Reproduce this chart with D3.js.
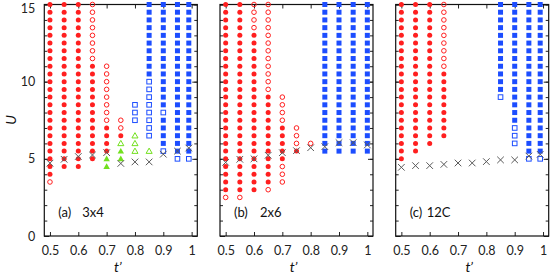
<!DOCTYPE html>
<html><head><meta charset="utf-8">
<script src="https://cdn.jsdelivr.net/npm/d3@7"></script>
<style>body{margin:0;background:#fff}svg{display:block}text{font-family:Lato,"Liberation Sans",sans-serif}</style>
</head><body><svg id="c" width="550" height="278"></svg>
<script>
// ---- data: ranges [t', U_low, U_high] on a 0.5-step U grid ----
const tickT = [0.5, 0.6, 0.7, 0.8, 0.9, 1.0];
const tickU = [0, 5, 10, 15];
const panelNames = ["(a)", "(b)", "(c)"];
const panelSizes = ["3x4", "2x6", "12C"];

const redFilledA = [[0.5,4,15],[0.55,4.5,15],[0.6,4.5,15],[0.65,5,11],[0.7,5.5,7],[0.75,6.5,6.5]];
const redOpenA   = [[0.5,3.5,3.5],[0.65,11.5,15],[0.7,7.5,11],[0.75,7,7.5]];
const greenFilledA = [[0.7,4.5,5],[0.75,5,5.5]];
const greenOpenA = [[0.75,6,6],[0.8,5.5,6.5],[0.85,5.5,5.5]];
const blueFilledA = [[0.85,10.5,15],[0.9,8.5,15],[0.9,6,7.5],[0.95,5.5,15],[0.99,5.5,15]];
const blueOpenA = [[0.8,7.5,8.5],[0.85,6.5,10],[0.9,8,8],[0.9,5.5,5.5],[0.95,5,5],[0.99,5,5]];
const crossA = [[0.5,4.72],[0.55,4.97],[0.6,5.15],[0.65,5.25],[0.7,5.4],[0.75,4.7],[0.8,4.8],[0.85,4.8],[0.9,5.3],[0.95,5.5],[0.99,5.7]];

const redFilledB = [[0.5,3,15],[0.55,3,15],[0.6,3,13],[0.65,3.5,9],[0.7,5,7],[0.75,5.5,5.5]];
const redOpenB = [[0.5,2.5,2.5],[0.55,2.5,2.5],[0.6,13.5,15],[0.65,9.5,15],[0.65,3,3],[0.7,7.5,9],[0.7,3.5,4.5],[0.75,6,7],[0.8,6,6]];
const greenFilledB = [];
const greenOpenB = [];
const blueFilledB = [[0.85,5.5,15],[0.9,5.5,15],[0.95,5.5,15],[1.0,5.5,15]];
const blueOpenB = [];
const crossB = [[0.5,4.77],[0.55,4.97],[0.6,5.0],[0.65,5.23],[0.7,5.4],[0.75,5.53],[0.8,5.72],[0.85,5.79],[0.9,6.05],[0.95,6.05],[1.0,5.9]];

const redFilledC = [[0.5,5,15],[0.55,5.5,15],[0.6,6,15],[0.65,6.5,10.5]];
const redOpenC = [[0.65,11,15]];
const greenFilledC = [];
const greenOpenC = [];
const blueFilledC = [[0.85,9.5,15],[0.9,7.5,15],[0.95,5.5,15],[0.99,5.5,15]];
const blueOpenC = [[0.85,9,9],[0.9,6,7],[0.95,5,5],[0.99,5,5]];
const crossC = [[0.5,4.45],[0.55,4.56],[0.6,4.56],[0.65,4.64],[0.7,4.73],[0.75,4.73],[0.8,4.82],[0.85,4.93],[0.9,4.93],[0.95,5.18],[0.99,5.29]];

const panels = [
  {rf:redFilledA, ro:redOpenA, gf:greenFilledA, go:greenOpenA, bf:blueFilledA, bo:blueOpenA, x:crossA},
  {rf:redFilledB, ro:redOpenB, gf:greenFilledB, go:greenOpenB, bf:blueFilledB, bo:blueOpenB, x:crossB},
  {rf:redFilledC, ro:redOpenC, gf:greenFilledC, go:greenOpenC, bf:blueFilledC, bo:blueOpenC, x:crossC}
];

// ---- layout ----
const svg = d3.select("#c");
const lefts = [44.3, 220, 395.7];
const pw = 153, plotTop = 4.5, plotBottom = 236;
const RED = "#ff1f1f", BLUE = "#1c4dff", GREEN = "#72e01e", XCOL = "#5a5a5a";

function expand(ranges){
  const out = [];
  ranges.forEach(([t,lo,hi])=>{ for(let u=lo; u<=hi+1e-9; u+=0.5) out.push([t,u]); });
  return out;
}

const y = d3.scaleLinear().domain([0,15]).range([plotBottom, plotTop]);

panels.forEach((p, i) => {
  const x = d3.scaleLinear().domain([0.48, 1.02]).range([lefts[i], lefts[i]+pw]);
  const g = svg.append("g");

  g.append("g").attr("transform",`translate(0,${plotBottom})`)
    .call(d3.axisBottom(x).tickValues(tickT).tickSize(-4).tickSizeOuter(0).tickPadding(10)
      .tickFormat(d=> d===1 ? "1" : d3.format(".1f")(d)));
  g.append("g").attr("transform",`translate(0,${plotTop})`)
    .call(d3.axisTop(x).tickValues(tickT).tickSize(-4).tickSizeOuter(0).tickFormat(""));
  g.append("g").attr("transform",`translate(${lefts[i]},0)`)
    .call(d3.axisLeft(y).tickValues(d3.range(0,16)).tickSize(-3).tickSizeOuter(0).tickFormat(""));
  const lMaj = g.append("g").attr("transform",`translate(${lefts[i]},0)`)
    .call(d3.axisLeft(y).tickValues(tickU).tickSize(-5).tickSizeOuter(0).tickPadding(9)
      .tickFormat(i===0 ? d3.format("d") : ""));
  lMaj.selectAll(".tick text").filter(d=>d===15).attr("dy","0.62em");
  g.append("g").attr("transform",`translate(${lefts[i]+pw},0)`)
    .call(d3.axisRight(y).tickValues(d3.range(0,16)).tickSize(-3).tickSizeOuter(0).tickFormat(""));
  g.append("g").attr("transform",`translate(${lefts[i]+pw},0)`)
    .call(d3.axisRight(y).tickValues(tickU).tickSize(-5).tickSizeOuter(0).tickFormat(""));
  g.selectAll(".domain").remove();
  g.selectAll(".tick line").attr("stroke","#222");
  g.selectAll(".tick text").attr("font-size",12.5).attr("fill","#222");

  g.append("rect").attr("x",lefts[i]).attr("y",plotTop).attr("width",pw).attr("height",plotBottom-plotTop)
    .attr("fill","none").attr("stroke","#111").attr("stroke-width",1.2);

  const m = g.append("g");
  m.selectAll(".rf").data(expand(p.rf)).join("circle")
    .attr("cx",d=>x(d[0])).attr("cy",d=>y(d[1])).attr("r",2.5).attr("fill",RED);
  m.selectAll(".ro").data(expand(p.ro)).join("circle")
    .attr("cx",d=>x(d[0])).attr("cy",d=>y(d[1])).attr("r",2.3).attr("fill","none").attr("stroke",RED).attr("stroke-width",1);
  m.selectAll(".bf").data(expand(p.bf)).join("rect")
    .attr("x",d=>x(d[0])-2.5).attr("y",d=>y(d[1])-2.5).attr("width",5).attr("height",5).attr("fill",BLUE);
  m.selectAll(".bo").data(expand(p.bo)).join("rect")
    .attr("x",d=>x(d[0])-2.3).attr("y",d=>y(d[1])-2.3).attr("width",4.6).attr("height",4.6)
    .attr("fill","none").attr("stroke",BLUE).attr("stroke-width",1);
  m.selectAll(".gf").data(expand(p.gf)).join("path")
    .attr("d",d3.symbol().type(d3.symbolTriangle).size(18)).attr("transform",d=>`translate(${x(d[0])},${y(d[1])+0.5})`).attr("fill",GREEN);
  m.selectAll(".go").data(expand(p.go)).join("path")
    .attr("d",d3.symbol().type(d3.symbolTriangle).size(16)).attr("transform",d=>`translate(${x(d[0])},${y(d[1])+0.5})`)
    .attr("fill","none").attr("stroke",GREEN).attr("stroke-width",1);
  m.selectAll(".xx").data(p.x).join("path")
    .attr("d","M-3.3,-3.3L3.3,3.3M-3.3,3.3L3.3,-3.3")
    .attr("transform",d=>`translate(${x(d[0])},${y(d[1])})`)
    .attr("fill","none").attr("stroke",XCOL).attr("stroke-width",1);

  g.append("text").attr("x",lefts[i]+14).attr("y",217).attr("font-size",13).attr("fill","#111").text(panelNames[i]);
  g.append("text").attr("x",lefts[i]+(i===2?31:(i===0?38:40))).attr("y",217).attr("font-size",13).attr("fill","#111").text(panelSizes[i]);

  g.append("text").attr("x",lefts[i]+pw/2-3).attr("y",272).attr("text-anchor","middle")
    .attr("font-size",14).attr("font-style","italic").attr("font-family","'DejaVu Serif',serif").attr("fill","#111").text("t’");
});

svg.append("text").attr("transform","translate(16,120) rotate(-90)").attr("text-anchor","middle")
  .attr("font-size",14).attr("font-style","italic").attr("font-family","'DejaVu Serif',serif").attr("fill","#111").text("U");
</script></body></html>
